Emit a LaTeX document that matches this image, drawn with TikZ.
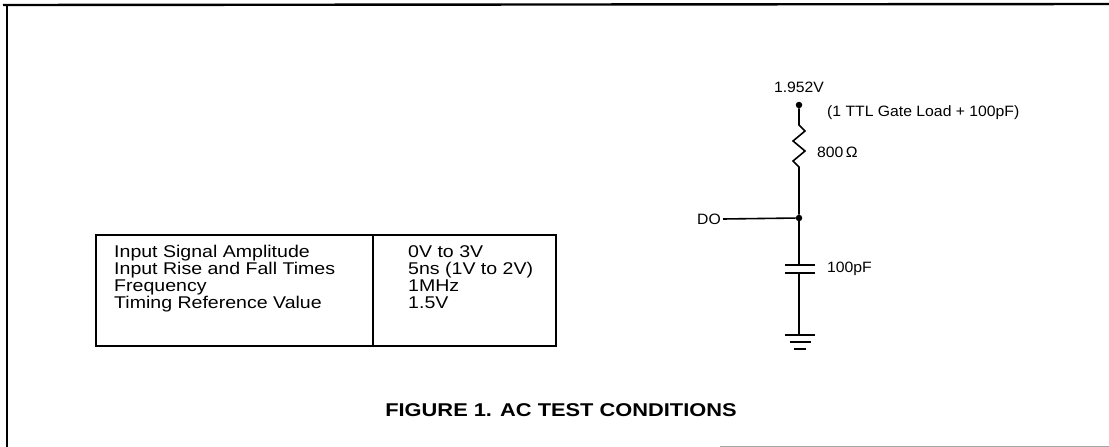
\documentclass[tikz,border=0pt]{standalone}
\usepackage{fontspec}
\setmainfont{Liberation Sans}[FakeStretch=1.05]
\newfontfamily\tablefont{Liberation Sans}[FakeStretch=1.15]
\newfontfamily\titlefont{Liberation Sans}[FakeStretch=1.18]
\begin{document}
\begin{tikzpicture}[x=1pt,y=-1pt,
  lbl/.style={inner sep=0pt,font=\fontsize{15}{16}\selectfont},
  tbl/.style={inner sep=0pt,anchor=base west,font=\tablefont\fontsize{17}{17}\selectfont},
  wire/.style={line width=1.6pt},
  plate/.style={line width=2.4pt},
  frame/.style={line width=2.4pt},
  dotc/.style={circle,fill=black,inner sep=0pt,minimum size=6.5pt}]
\useasboundingbox (0,0) rectangle (1109,447);
% outer frame (top and left only visible)
\draw[frame] (3,5) -- (1109,4);
\draw[frame] (7,5) -- (7,447);
\draw[line width=1pt,black!35] (720,446) -- (1109,446);
% table
\node[draw,line width=1.6pt,minimum width=460pt,minimum height=111pt,inner sep=0pt,anchor=north west] (tab) at (95,234) {};
\coordinate (divtop) at (373,234);
\coordinate (divbot) at (373,345);
\draw[line width=1.6pt] (divtop) -- (divbot);
\node[tbl] (l1) at (114,257) {Input Signal Amplitude};
\node[tbl] (l2) at (114,274) {Input Rise and Fall Times};
\node[tbl] (l3) at (114,291) {Frequency};
\node[tbl] (l4) at (114,308) {Timing Reference Value};
\node[tbl] (r1) at (408,257) {0V to 3V};
\node[tbl] (r2) at (408,274) {5ns (1V to 2V)};
\node[tbl] (r3) at (408,291) {1MHz};
\node[tbl] (r4) at (408,308) {1.5V};
% circuit
\node[dotc] (top) at (799,105) {};
\node[lbl] (vlab) at (799,87) {1.952V};
\node[lbl,anchor=west] (load) at (827,113) {(1 TTL Gate Load + 100pF)};
\coordinate (rtop) at (799,125);
\coordinate (rbot) at (799,167);
\node[lbl,anchor=west] (rlab) at (817,152) {800\,Ω};
\node[dotc] (jn) at (799,218) {};
\node[lbl,anchor=east] (do) at (721,219) {DO};
\coordinate (c1) at (799,265);
\coordinate (c2) at (799,273);
\node[lbl,anchor=west] (clab) at (827,269) {100pF};
\coordinate (gnd) at (799,335);
\draw[wire,line join=miter] (top) -- (rtop) -- (805,131) -- (793,141) -- (805,151) -- (793,161) -- (rbot) -- (jn);
\draw[wire] (do.east) ++(2,0) -- (jn);
\draw[wire] (jn) -- (c1);
\draw[plate] (785,265) -- (815,265);
\draw[plate] (785,273) -- (815,273);
\draw[wire] (c2) -- (gnd);
\draw[plate] (785,335) -- (815,335);
\draw[plate] (790,342) -- (811,342);
\draw[plate] (794,349) -- (806,349);
% title
\node[inner sep=0pt,font=\titlefont\bfseries\fontsize{18.5}{18}\selectfont] (title) at (561,410) {FIGURE 1. AC TEST CONDITIONS};
\end{tikzpicture}
\end{document}
